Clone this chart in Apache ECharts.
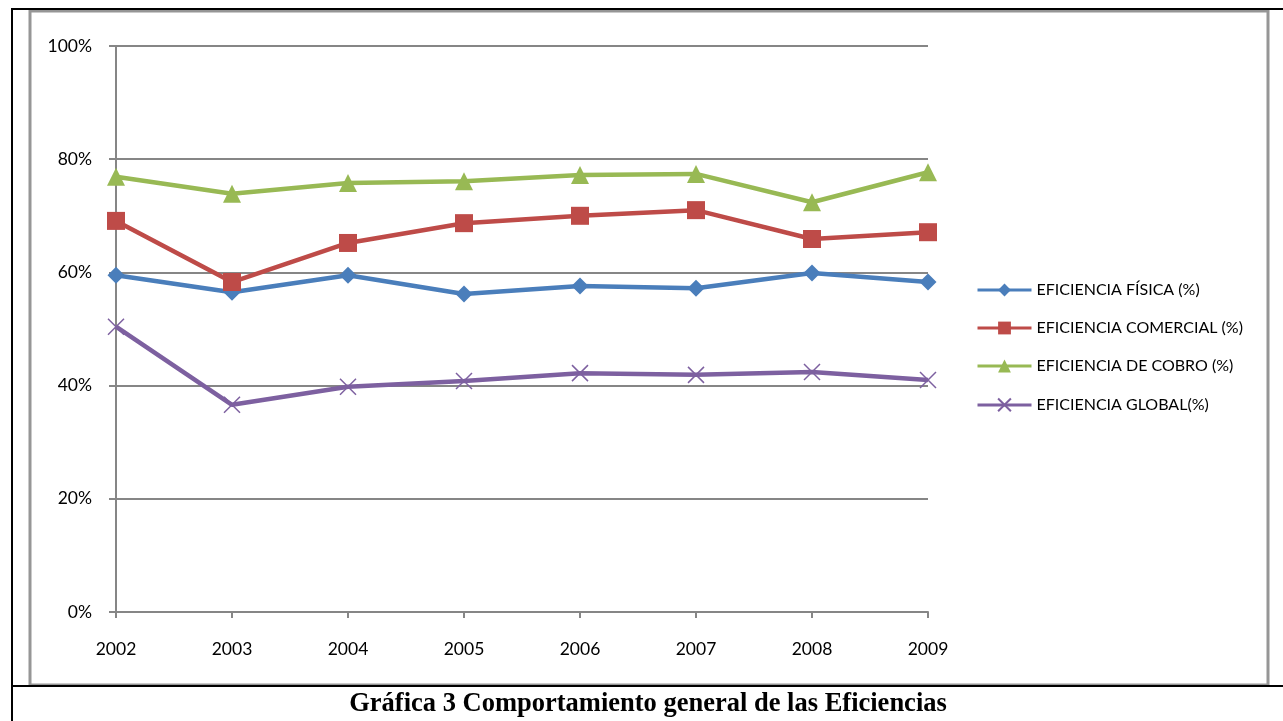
<!DOCTYPE html>
<html><head><meta charset="utf-8">
<script src="https://cdn.jsdelivr.net/npm/echarts@6/dist/echarts.min.js"></script>
<style>html,body{margin:0;padding:0;background:#fff;}#c{width:1283px;height:721px;}</style>
</head><body><div id="c"></div>
<script>
const years = ['2002','2003','2004','2005','2006','2007','2008','2009'];
const fisica = [59.5, 56.5, 59.5, 56.2, 57.6, 57.2, 59.9, 58.3];
const comercial = [69.1, 58.3, 65.2, 68.7, 70.0, 71.0, 65.9, 67.1];
const cobro = [76.9, 73.9, 75.8, 76.1, 77.2, 77.4, 72.4, 77.7];
const global = [50.4, 36.6, 39.8, 40.8, 42.2, 41.9, 42.4, 41.0];
const names = ['EFICIENCIA FÍSICA (%)','EFICIENCIA COMERCIAL (%)','EFICIENCIA DE COBRO (%)','EFICIENCIA GLOBAL(%)'];
const yTicks = [0,20,40,60,80,100];
const titleText = 'Gráfica 3 Comportamiento general de las Eficiencias';

const chart = echarts.init(document.getElementById('c'), null, {renderer:'canvas'});
const font = 'Lato, "Open Sans", sans-serif';
function mk(name, data, color, symbol, size, extra) {
  return Object.assign({
    name, type:'line', data, symbol, symbolSize:size,
    lineStyle:{color, width:4.5}, itemStyle:{color},
    showSymbol:true, z:3
  }, extra||{});
}
chart.setOption({
  animation:false,
  grid:{left:116, top:46, width:812, height:566, containLabel:false},
  xAxis:{type:'category', data:years, boundaryGap:false,
    axisLine:{lineStyle:{color:'#868686', width:2}},
    axisTick:{show:true, length:6, lineStyle:{color:'#868686', width:2}},
    axisLabel:{color:'#000', fontSize:17.5, fontFamily:font, margin:28},
    splitLine:{show:false}},
  yAxis:{type:'value', min:0, max:100, interval:20,
    axisLine:{show:true, lineStyle:{color:'#868686', width:2}},
    axisTick:{show:true, length:7, lineStyle:{color:'#868686', width:2}},
    axisLabel:{color:'#000', fontSize:17.5, fontFamily:font, margin:24, formatter:v=>yTicks.includes(v)?v+'%':''},
    splitLine:{show:true, lineStyle:{color:'#868686', width:2}}},
  legend:{orient:'vertical', left:976, top:282, padding:0, itemWidth:54, itemHeight:16, itemGap:22,
    lineStyle:{width:3},
    textStyle:{fontSize:16, lineHeight:16, fontFamily:font, color:'#000'},
    data:names},
  series:[
    mk(names[0], fisica, '#4A7EBB', 'diamond', 17),
    mk(names[1], comercial, '#BE4B48', 'rect', 18),
    mk(names[2], cobro, '#98B954', 'triangle', 18),
    mk(names[3], global, '#7D60A0', 'path://M0,0L10,10M10,0L0,10', 16,
      {itemStyle:{color:'none', borderColor:'#7D60A0', borderWidth:1.5}})
  ],
  graphic:[
    {type:'rect', shape:{x:30, y:11, width:1238, height:674}, style:{fill:'none', stroke:'#969696', lineWidth:3}, silent:true},
    {type:'line', shape:{x1:12, y1:8, x2:12, y2:721}, style:{stroke:'#000', lineWidth:2}},
    {type:'line', shape:{x1:11, y1:9, x2:1283, y2:9}, style:{stroke:'#000', lineWidth:2}},
    {type:'line', shape:{x1:11, y1:686, x2:1283, y2:686}, style:{stroke:'#000', lineWidth:2}},
    {type:'text', x:648, y:704, style:{text:titleText, align:'center', verticalAlign:'middle', font:'bold 26.5px "Liberation Serif", "Times New Roman", serif', fill:'#000'}}
  ]
});
</script></body></html>
